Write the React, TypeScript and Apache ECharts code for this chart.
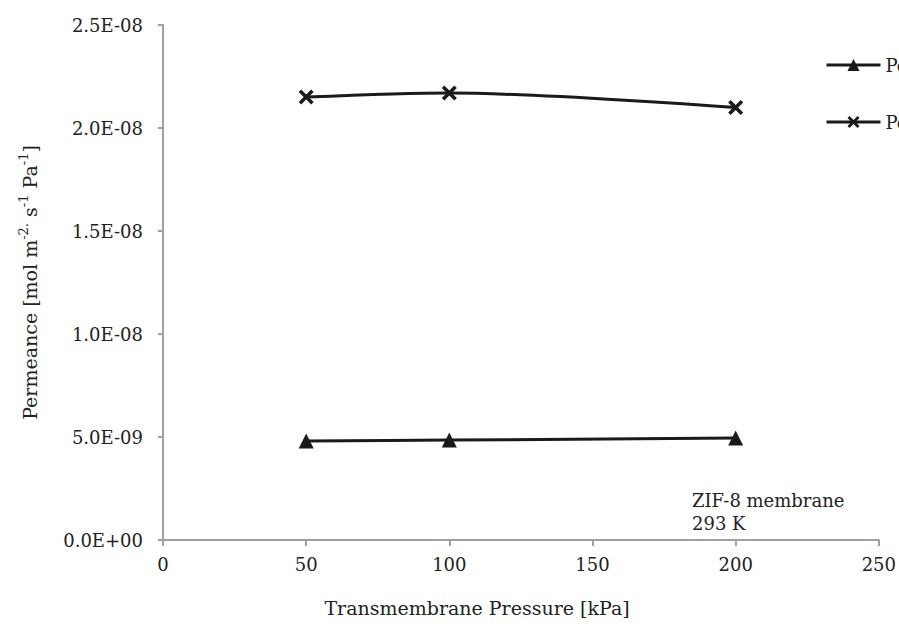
import React, { useEffect, useRef } from "react";
import * as echarts from "echarts";

const pressures = [50, 100, 200];
const seriesNames = ["Permeance H₂ (single)", "Permeance H₂ (mixed)"];
const triangleValues = [4.8e-9, 4.85e-9, 4.95e-9];
const crossValues = [2.15e-8, 2.17e-8, 2.1e-8];
const yTicks = [0, 5e-9, 1e-8, 1.5e-8, 2e-8, 2.5e-8];
const xTitle = "Transmembrane Pressure [kPa]";
const annotation = ["ZIF-8 membrane", "293 K"];

const FONT = "DejaVu Serif";
const FS = 18;
const crossPath =
  "path://M2,0 L6,4 L10,0 L12,2 L8,6 L12,10 L10,12 L6,8 L2,12 L0,10 L4,6 L0,2 Z";

export default function App() {
  const ref = useRef<HTMLDivElement>(null);
  useEffect(() => {
    const chart = echarts.init(ref.current!, undefined, { renderer: "svg" });
    const fmt = (v: number) => {
      if (v === 0) return "0.0E+00";
      const e = Math.floor(Math.log10(Math.abs(v)) + 1e-9);
      const m = v / Math.pow(10, e);
      const es = e < 0 ? "-" + String(-e).padStart(2, "0") : "+" + String(e).padStart(2, "0");
      return m.toFixed(1) + "E" + es;
    };
    chart.setOption({
      animation: false,
      textStyle: { fontFamily: FONT },
      grid: { left: 163, right: 19, top: 25, bottom: 84, containLabel: false },
      legend: {
        orient: "vertical",
        left: 820,
        top: 51,
        itemWidth: 54,
        itemHeight: 15,
        itemGap: 39,
        lineStyle: { width: 3 },
        textStyle: { fontFamily: FONT, fontSize: FS, color: "#222" },
        data: seriesNames,
      },
      xAxis: {
        type: "value",
        min: 0,
        max: 250,
        interval: 50,
        axisLine: { show: true, lineStyle: { color: "#a0a0a0", width: 2 } },
        axisTick: { show: true, length: 6, lineStyle: { color: "#a0a0a0", width: 2 } },
        axisLabel: { fontFamily: FONT, fontSize: FS, color: "#222", margin: 15 },
        splitLine: { show: false },
      },
      yAxis: {
        type: "value",
        min: yTicks[0],
        max: yTicks[yTicks.length - 1],
        interval: 5e-9,
        name:
          "{a|Permeance [mol m}{s|-2.}{a| s}{s|-1}{a| Pa}{s|-1}{a|]}",
        nameLocation: "middle",
        nameGap: 124,
        nameTextStyle: {
          fontFamily: FONT,
          fontSize: 19,
          color: "#222",
          rich: {
            a: { fontFamily: FONT, fontSize: 19, color: "#222", verticalAlign: "bottom", lineHeight: 24 },
            s: { fontFamily: FONT, fontSize: 13, color: "#222", verticalAlign: "bottom", lineHeight: 24, padding: [0, 0, 9, 0] },
          },
        },
        axisLine: { show: true, lineStyle: { color: "#a0a0a0", width: 2 } },
        axisTick: { show: true, length: 5, lineStyle: { color: "#a0a0a0", width: 2 } },
        axisLabel: { fontFamily: FONT, fontSize: FS, color: "#222", margin: 20, formatter: fmt },
        splitLine: { show: false },
      },
      graphic: [
        {
          type: "text",
          left: 692,
          top: 489,
          style: {
            text: annotation.join("\n"),
            font: `${FS}px "${FONT}"`,
            fill: "#222",
            lineHeight: 23,
          },
        },
        {
          type: "text",
          x: 477,
          y: 608,
          style: {
            text: xTitle,
            font: `19px "${FONT}"`,
            fill: "#222",
            align: "center",
            verticalAlign: "middle",
          },
        },
      ],
      series: [
        {
          name: seriesNames[0],
          type: "line",
          data: pressures.map((p, i) => [p, triangleValues[i]]),
          symbol: "triangle",
          symbolSize: 15,
          smooth: 0.3,
          lineStyle: { color: "#1a1a1a", width: 3 },
          itemStyle: { color: "#1a1a1a" },
        },
        {
          name: seriesNames[1],
          type: "line",
          data: pressures.map((p, i) => [p, crossValues[i]]),
          symbol: crossPath,
          symbolSize: 15,
          smooth: 0.3,
          lineStyle: { color: "#1a1a1a", width: 3 },
          itemStyle: { color: "#1a1a1a" },
        },
      ],
    });
    return () => chart.dispose();
  }, []);
  return <div ref={ref} style={{ width: 899, height: 624, position: "absolute", left: 0, top: 0 }} />;
}
